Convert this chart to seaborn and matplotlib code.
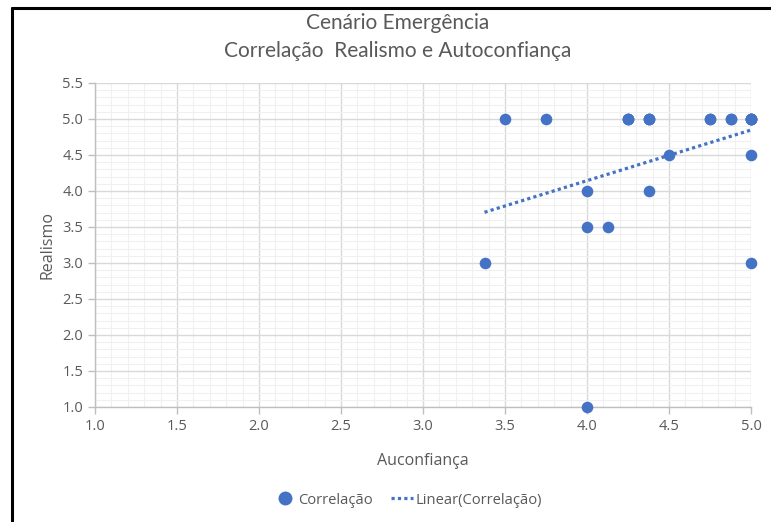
import numpy as np
import pandas as pd
import matplotlib
matplotlib.use("Agg")
import matplotlib.pyplot as plt
from matplotlib.ticker import MultipleLocator
from matplotlib.lines import Line2D
import seaborn as sns

# dados (pontos sobrepostos repetidos)
autoconfianca = [3.375, 3.5, 3.75, 4.0, 4.0, 4.0, 4.125, 4.25, 4.25, 4.25,
                 4.375, 4.375, 4.375, 4.375, 4.5, 4.75, 4.75, 4.875, 4.875,
                 5.0, 5.0, 5.0, 5.0, 5.0, 5.0, 5.0]
realismo = [3.0, 5.0, 5.0, 4.0, 3.5, 1.0, 3.5, 5.0, 5.0, 5.0,
            5.0, 5.0, 5.0, 4.0, 4.5, 5.0, 5.0, 5.0, 5.0,
            5.0, 5.0, 5.0, 5.0, 5.0, 4.5, 3.0]

titulo = "Cenário Emergência\nCorrelação  Realismo e Autoconfiança"
x_label = "Auconfiança"
y_label = "Realismo"
serie = "Correlação"
serie_trend = "Linear(Correlação)"

df = pd.DataFrame({"x": autoconfianca, "y": realismo})

azul = "#4472C4"
cinza = "#595959"

sns.set_style("white")
plt.rcParams["font.family"] = ["Open Sans", "DejaVu Sans"]

fig = plt.figure(figsize=(7.71, 5.22), dpi=100)
ax = fig.add_axes([95 / 771, 1 - 407 / 522, (751 - 95) / 771, (407 - 83) / 522])

sns.regplot(data=df, x="x", y="y", scatter=False, ci=None, truncate=True, ax=ax,
            line_kws=dict(color=azul, lw=2.3, linestyle=(0, (1, 1))))
sns.scatterplot(data=df, x="x", y="y", ax=ax, color=azul, s=70, linewidth=0,
                zorder=3, clip_on=False)

ax.set_xlim(1.0, 5.0)
ax.set_ylim(1.0, 5.5)
ax.xaxis.set_major_locator(MultipleLocator(0.5))
ax.yaxis.set_major_locator(MultipleLocator(0.5))
ax.xaxis.set_minor_locator(MultipleLocator(0.1))
ax.yaxis.set_minor_locator(MultipleLocator(0.1))
ax.xaxis.set_major_formatter(matplotlib.ticker.FormatStrFormatter("%.1f"))
ax.yaxis.set_major_formatter(matplotlib.ticker.FormatStrFormatter("%.1f"))
ax.grid(which="major", color="#d9d9d9", lw=1.0)
ax.grid(which="minor", color="#f0f0f0", lw=0.8)
ax.set_axisbelow(True)

for s in ["top", "right"]:
    ax.spines[s].set_visible(False)
for s in ["left", "bottom"]:
    ax.spines[s].set_color("#bfbfbf")
    ax.spines[s].set_linewidth(1.0)

ax.tick_params(which="major", axis="both", direction="out", length=5, width=1,
               color="#bfbfbf", labelcolor=cinza, labelsize=10.5, bottom=True, left=True)
ax.tick_params(which="minor", length=0)

ax.set_xlabel(x_label, color=cinza, fontsize=11.5, labelpad=14)
ax.set_ylabel(y_label, color=cinza, fontsize=11.5, labelpad=5)

fig.text(0.516, 1 - 37 / 522, titulo, ha="center", va="center", color=cinza,
         fontsize=15, family=["Lato", "DejaVu Sans"], linespacing=1.5)

handles = [
    Line2D([], [], marker="o", color=azul, ls="none", markersize=9),
    Line2D([], [], color=azul, lw=2.3, linestyle=(0, (1, 1))),
]
fig.legend(handles, [serie, serie_trend], loc="center", bbox_to_anchor=(0.529, 1 - 500 / 522),
           ncol=2, frameon=False, fontsize=10.6, labelcolor=cinza, handlelength=1.45,
           handletextpad=0.15, columnspacing=1.3)

# moldura (esquerda e topo)
fig.add_artist(Line2D([12 / 771, 12 / 771], [0, 1 - 7.5 / 522], transform=fig.transFigure,
                      color="black", lw=2.2))
fig.add_artist(Line2D([12 / 771, 1], [1 - 7.5 / 522, 1 - 7.5 / 522], transform=fig.transFigure,
                      color="black", lw=2.2))

fig.savefig("out.png", dpi=100)
